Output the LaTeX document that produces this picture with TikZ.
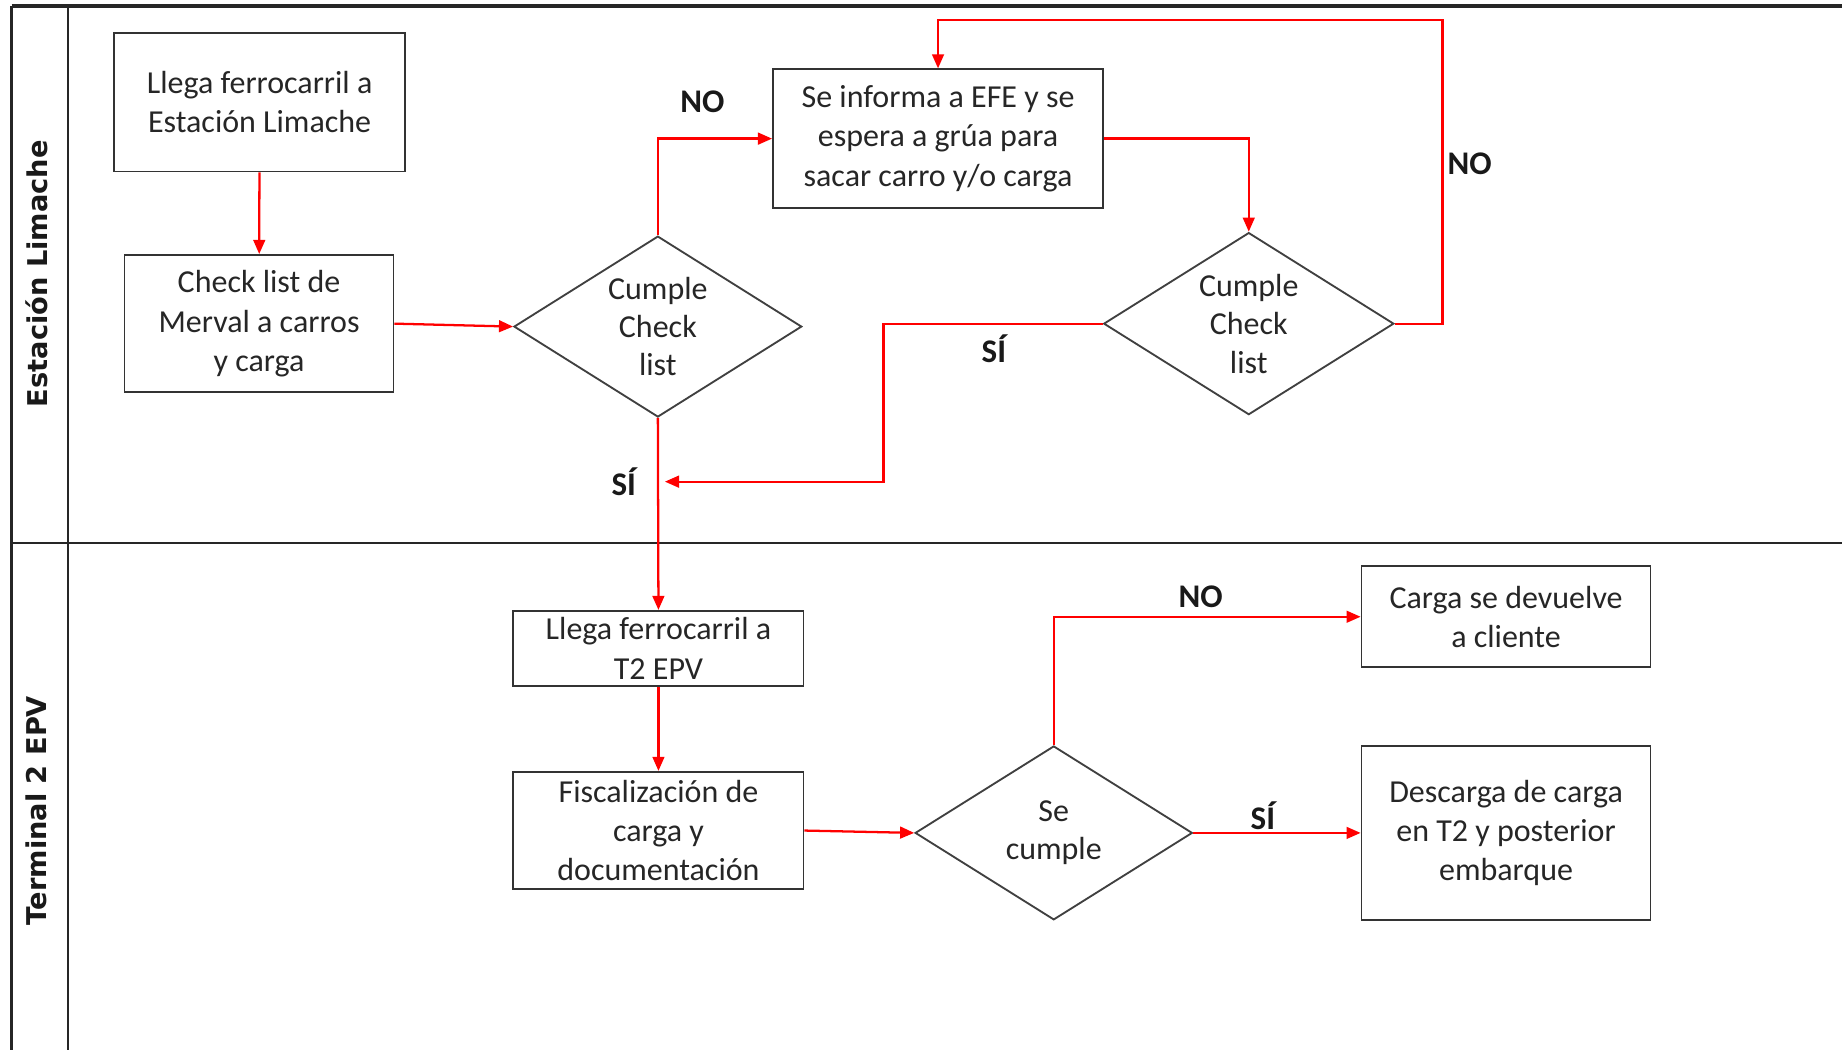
\documentclass[tikz,border=0pt]{standalone}
\usepackage{fontspec}
\setmainfont{Carlito}
\newfontfamily\lanefont{DejaVu Sans}
\usetikzlibrary{arrows.meta,shapes.geometric}

\begin{document}
\begin{tikzpicture}[x=0.02cm,y=-0.02cm,
  wh/.style 2 args={minimum width=#1*0.02cm, minimum height=#2*0.02cm},
  box/.style={draw=black!80, line width=0.9pt, align=center, inner sep=0pt,
    font=\fontsize{15.5}{19}\selectfont, text=black!85},
  decision/.style={draw=black!75, line width=0.9pt, diamond, inner sep=0pt},
  dtext/.style={align=center, inner sep=0pt, font=\fontsize{15.5}{18.6}\selectfont, text=black!85},
  flow/.style={draw=red, line width=1.1pt, -{Triangle[length=0.24cm,width=0.2cm]}},
  tag/.style={font=\bfseries\fontsize{16}{19}\selectfont, text=black!90},
  lane/.style={rotate=90, font=\lanefont\bfseries\fontsize{13.2}{16}\selectfont, text=black!90},
  rule/.style={draw=black!85, line width=0.9pt}]

\useasboundingbox (0,0) rectangle (1568,893);

% swimlane frame
\draw[rule, line width=1.8pt] (10,5) -- (1580,5);
\draw[rule, line width=1.3pt] (10,5) -- (10,900);
\draw[rule] (58,5) -- (58,900);
\draw[rule] (10,462) -- (1580,462);

\node[lane] (laneA) at (31,233) {Estación Limache};
\node[lane] (laneB) at (31,690) {Terminal 2 EPV};

% process steps
\node[box, wh={248}{118}] (b1) at (221,87) {Llega ferrocarril a\\Estación Limache};
\node[box, wh={229}{117}] (b2) at (220.5,275.5) {Check list de\\Merval a carros\\y carga};
\node[box, wh={281}{118}] (b4) at (798.5,118) {Se informa a EFE y se\\espera a grúa para\\sacar carro y/o carga};
\node[box, wh={247}{64}] (b6) at (560.5,552) {Llega ferrocarril a\\T2 EPV};
\node[box, wh={247}{100}] (b7) at (560.5,707) {Fiscalización de\\carga y\\documentación};
\node[box, wh={246}{86}] (b9) at (1282,525) {Carga se devuelve\\a cliente};
\node[box, wh={246}{148}] (b10) at (1282,709) {Descarga de carga\\en T2 y posterior\\embarque};

% decisions
\node[decision, wh={245}{154}] (d1) at (560,278) {};
\node[dtext] (d1t) at (d1.center) {Cumple\\Check\\list};
\node[decision, wh={247}{155}] (d2) at (1063,275.5) {};
\node[dtext] (d2t) at (d2.center) {Cumple\\Check\\list};
\node[decision, wh={236}{148}] (d3) at (897,709) {};
\node[dtext] (d3t) at (d3.center) {Se\\cumple};

% bend points
\coordinate (loopTop) at (1228,17);
\coordinate (siBend) at (752,410);
\coordinate (siY) at (0,410);
\coordinate (siJoin) at (d1.south |- siY);

% connectors
\draw[flow] (b1) -- (b2);
\draw[flow] (b2.east) -- (d1.west);
\draw[flow] (d1.north) |- (b4.west);
\draw[flow] (b4.east) -| (d2.north);
\draw[flow] (d2.east) -| (loopTop) -| (b4.north);
\draw[flow, shorten >=0.12cm] (d2.west) -| (siBend) -- (siJoin);
\draw[flow] (d1.south) -- (b6.north);
\draw[flow] (b6) -- (b7);
\draw[flow] (b7.east) -- (d3.west);
\draw[flow] (d3.north) |- (b9.west);
\draw[flow] (d3.east) -- (b10.west);

% branch labels
\node[tag] (no1) at (598,87) {NO};
\node[tag] (no2) at (1251,139) {NO};
\node[tag] (si1) at (846,297) {SÍ};
\node[tag] (si2) at (531,410) {SÍ};
\node[tag] (no3) at (1022,508) {NO};
\node[tag] (si3) at (1075,694) {SÍ};
\end{tikzpicture}
\end{document}
